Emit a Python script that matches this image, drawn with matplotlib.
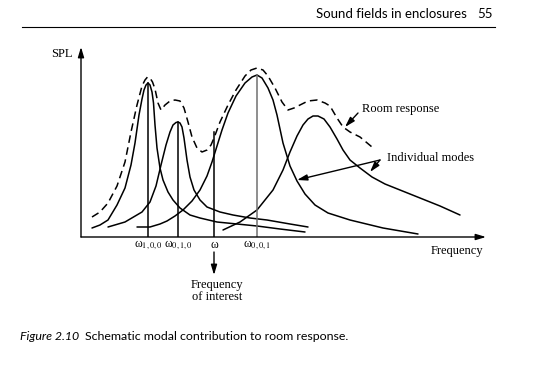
import matplotlib
matplotlib.use('Agg')
import matplotlib.pyplot as plt
import numpy as np

plt.rcParams.update({'font.family': 'Liberation Serif', 'mathtext.fontset': 'stix'})

# schematic modal curves (x = frequency, y = SPL, arbitrary units)
modo_100_x = [11, 19, 27, 36, 44, 50, 54, 58, 61, 63, 65, 67, 69, 71, 72.5, 74, 76, 79, 82, 87, 92, 99, 109, 119, 136, 156, 176, 199, 224]
modo_100_y = [9, 12, 17, 32, 49, 72, 94, 122, 138, 147, 152, 154, 152, 145, 134, 112, 89, 69, 57, 45, 37, 29, 22, 19, 15, 13, 11, 8, 5]

modo_010_x = [27, 44, 61, 69, 75, 80, 85, 89, 92, 95, 97, 99, 101, 103, 106, 109, 113, 119, 126, 139, 152, 169, 186, 209, 227]
modo_010_y = [10, 15, 25, 35, 51, 72, 92, 105, 112, 114.5, 115, 114, 110, 99, 77, 60, 47, 37, 30, 25, 22, 19, 17, 13, 10]

modo_001_x = [56, 69, 79, 86, 94, 102, 111, 119, 126, 131, 136, 141, 147, 155, 164, 171, 176, 181, 187, 192, 196, 202, 209, 216, 224, 234, 247, 269, 302, 337]
modo_001_y = [10, 10, 13, 16, 21, 27, 36, 47, 61, 75, 91, 107, 124, 141, 154, 160, 162, 159, 149, 137, 122, 94, 71, 56, 43, 32, 24, 17, 9, 3]

modo_e_x = [142, 159, 176, 192, 202, 209, 216, 222, 227, 232, 237, 243, 249, 256, 262, 269, 279, 291, 304, 319, 339, 359, 379]
modo_e_y = [7, 15, 27, 47, 67, 85, 101, 112, 118, 121, 121, 118, 110, 98, 87, 77, 69, 60, 53, 47, 39, 31, 22]

sala_x = [11, 19, 27, 36, 44, 50, 56, 61, 64, 66.5, 69, 71.5, 74, 77, 80, 84, 89, 94, 99, 103, 107, 111, 116, 121, 126, 130, 133,
          139, 147, 155, 164, 170, 176, 182, 187, 194, 201, 207, 213, 219, 227, 236, 244, 249, 256, 262, 269, 279, 291]
sala_y = [20, 25, 34, 51, 75, 105, 132, 151, 157, 160, 159, 155, 148, 134, 127, 132, 136, 137, 136, 129, 115, 100, 89, 85, 87, 92, 99,
          115, 132, 147, 161, 167, 169, 167, 161, 149, 135, 127, 129, 132, 136, 137, 134, 131, 119, 110, 105, 100, 90]

# resonance lines and frequency of interest
frec_x = [67, 97, 133, 176]
frec_top = [154, 115, 105, 162]
frec_lab = ['ω$_{1,0,0}$', 'ω$_{0,1,0}$', 'ω', 'ω$_{0,0,1}$']
frec_col = ['black', 'black', 'black', '#707070']

fig = plt.figure(figsize=(5.47, 3.67), dpi=100)

# page header and caption
fig.text(467/547, 1 - 14/367, 'Sound fields in enclosures', family='Lato', fontsize=9.5, ha='right', va='center')
fig.text(493/547, 1 - 14/367, '55', family='Lato', fontsize=9.5, ha='right', va='center')
fig.add_artist(plt.Line2D([22/547, 495/547], [1 - 27/367, 1 - 27/367], color='black', lw=0.8))
fig.text(20/547, 1 - 336/367, 'Figure 2.10', family='Lato', style='italic', fontsize=8.9, va='center')
fig.text(85/547, 1 - 336/367, 'Schematic modal contribution to room response.', family='Lato', fontsize=8.9, va='center')

ax = fig.add_axes([81/547, 130/367, 404/547, 189/367])
ax.set_xlim(0, 404)
ax.set_ylim(0, 189)
ax.axis('off')

for xs, ys in [(modo_100_x, modo_100_y), (modo_010_x, modo_010_y), (modo_001_x, modo_001_y), (modo_e_x, modo_e_y)]:
    ax.plot(xs, ys, color='black', lw=1.1, solid_capstyle='round', solid_joinstyle='round')
ax.plot(sala_x, sala_y, color='black', lw=1.1, linestyle=(0, (5, 3)))

for x, top, lab, c in zip(frec_x, frec_top, frec_lab, frec_col):
    ax.plot([x, x], [0, top], color=c, lw=1.1)
    ax.text(x, -8, lab, ha='center', va='center', fontsize=8.5, clip_on=False)

# axes with arrows
flecha = dict(arrowstyle='-|>,head_length=0.6,head_width=0.18', color='black', lw=1.0, shrinkA=0, shrinkB=0)
ax.annotate('', xy=(0, 190), xytext=(0, 0), arrowprops=flecha, annotation_clip=False)
ax.annotate('', xy=(405, 0), xytext=(0, 0), arrowprops=flecha, annotation_clip=False)
ax.text(-19, 183, 'SPL', ha='center', va='center', fontsize=9)
ax.text(376, -14, 'Frequency', ha='center', va='center', fontsize=9, clip_on=False)

# frequency of interest
ax.annotate('', xy=(133, -38), xytext=(133, -15), arrowprops=flecha, annotation_clip=False)
ax.text(136, -54, 'Frequency\nof interest', ha='center', va='center', fontsize=9, linespacing=1.1, clip_on=False)

# labels with arrows
ax.text(281, 128, 'Room response', ha='left', va='center', fontsize=9)
ax.annotate('', xy=(264, 110), xytext=(277, 124), arrowprops=flecha)
ax.text(306, 79, 'Individual modes', ha='left', va='center', fontsize=9)
ax.annotate('', xy=(216, 57), xytext=(299, 77), arrowprops=flecha)
ax.annotate('', xy=(289, 65), xytext=(299, 77), arrowprops=flecha)

fig.savefig('out.png', dpi=100)
